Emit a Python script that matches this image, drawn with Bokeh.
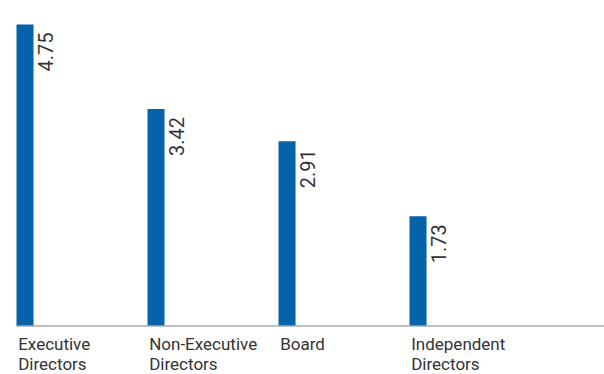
from bokeh.plotting import figure
from bokeh.models import Range1d, ColumnDataSource
from bokeh.core.properties import value
from bokeh.embed import file_html
from bokeh.resources import INLINE
import math

categories = ["Executive\nDirectors", "Non-Executive\nDirectors", "Board", "Independent\nDirectors"]
values = [4.75, 3.42, 2.91, 1.73]
value_labels = ["4.75", "3.42", "2.91", "1.73"]

BAR_COLOR = "#0563aa"
TEXT_COLOR = "#333333"

xs = list(range(len(categories)))
bar_w = 0.13
src = ColumnDataSource(dict(
    x=[i + bar_w / 2 for i in xs],
    xl=[i + 0.013 for i in xs],
    xr=[i + bar_w for i in xs],
    top=values,
    lab=value_labels,
    cat=categories,
    zero=[0] * len(xs),
))

# pixel frame 604 x 374; bar i left edge at 16 + 131 i, baseline at y=325.5
x_start = -16 / 131
x_end = x_start + 604 / 131
ppu = 301.5 / 4.75
y_end = 325.5 / ppu
y_start = -(374 - 325.5) / ppu

p = figure(width=604, height=374, output_backend="svg", toolbar_location=None,
           x_range=Range1d(x_start, x_end), y_range=Range1d(y_start, y_end),
           min_border=0, min_border_left=0, min_border_right=0,
           min_border_top=0, min_border_bottom=0)
p.axis.visible = False
p.grid.visible = False
p.outline_line_color = None
p.background_fill_color = "white"

p.vbar(x="x", top="top", bottom=0, width=bar_w, source=src,
       fill_color=BAR_COLOR, line_color=None)

p.segment(x0=[0], y0=[0], x1=[x_end], y1=[0], line_color="#aaaaaa", line_width=1.5)

p.text(x="xr", y="top", text="lab", source=src, angle=math.pi / 2,
       text_align="right", text_baseline="top", x_offset=4, y_offset=8,
       text_font=value("Roboto"), text_font_size="20px", text_color=TEXT_COLOR)

p.text(x="xl", y="zero", text="cat", source=src,
       text_align="left", text_baseline="top", y_offset=8,
       text_font=value("Roboto"), text_font_size="17px", text_color=TEXT_COLOR,
       text_line_height=1.0)

open("out.html", "w").write(file_html(p, INLINE))
